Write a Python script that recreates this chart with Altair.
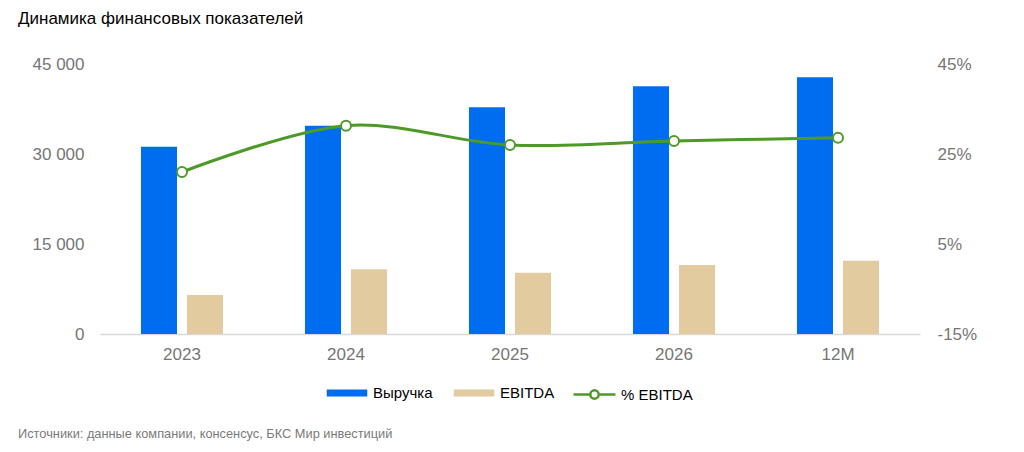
import pandas as pd
import altair as alt

# Data
periods = ["2023", "2024", "2025", "2026", "12M"]
revenue = [31200, 34700, 37800, 41300, 42800]
ebitda = [6500, 10800, 10200, 11500, 12200]
margin = [21.0, 31.3, 27.0, 27.9, 28.6]

bar_series = ["Выручка", "EBITDA"]
bar_colors = ["#006df0", "#e2cb9e"]
line_series = "% EBITDA"
line_color = "#4e9a28"

title_text = "Динамика финансовых показателей"
source_text = "Источники: данные компании, консенсус, БКС Мир инвестиций"

bars_df = pd.DataFrame({
    "period": periods * 2,
    "series": [bar_series[0]] * len(periods) + [bar_series[1]] * len(periods),
    "value": revenue + ebitda,
})
line_df = pd.DataFrame({"period": periods, "series": line_series, "pct": margin})

label_color = "#767676"
x = alt.X("period:N", sort=periods, title=None,
          scale=alt.Scale(paddingInner=0, paddingOuter=0),
          axis=alt.Axis(labelAngle=0, labelFontSize=17, labelColor=label_color,
                        labelPadding=12, ticks=False, domainColor="#d9d9d9",
                        domainWidth=1.5))

bars = alt.Chart(bars_df).mark_bar().encode(
    x=x,
    xOffset=alt.XOffset("series:N", sort=bar_series,
                        scale=alt.Scale(paddingInner=0.217, paddingOuter=0.89)),
    y=alt.Y("value:Q", title=None,
            scale=alt.Scale(domain=[0, 45000]),
            axis=alt.Axis(values=[0, 15000, 30000, 45000], grid=False, domain=False,
                          ticks=False, labelFontSize=17, labelColor=label_color,
                          labelPadding=16,
                          labelExpr="replace(format(datum.value, ','), ',', ' ')")),
    color=alt.Color("series:N", sort=bar_series,
                    scale=alt.Scale(domain=bar_series, range=bar_colors),
                    legend=alt.Legend(orient="none", legendX=226, legendY=308,
                                      direction="horizontal", title=None,
                                      symbolType="M-1,-0.17H1V0.17H-1Z",
                                      symbolSize=1640, labelFontSize=15,
                                      labelColor="#000", labelOffset=5,
                                      columnPadding=20)),
)

pct_axis = alt.Axis(orient="right", values=[-15, 5, 25, 45], grid=False, domain=False,
                    ticks=False, labelFontSize=17, labelColor=label_color,
                    labelPadding=17, labelExpr="datum.value + '%'")
pct_y = alt.Y("pct:Q", title=None, scale=alt.Scale(domain=[-15, 45]), axis=pct_axis)
stroke = alt.Stroke("series:N",
                    scale=alt.Scale(domain=[line_series], range=[line_color]),
                    legend=alt.Legend(orient="none", legendX=472, legendY=308,
                                      direction="horizontal", title=None,
                                      symbolType="M-1,0H-0.2M0.2,0H1M-0.2,0A0.2,0.2 0 1,1 0.2,0A0.2,0.2 0 1,1 -0.2,0",
                                      symbolSize=1760, symbolStrokeWidth=2.5,
                                      symbolFillColor="white", labelFontSize=15,
                                      labelColor="#000", labelOffset=4))

line = alt.Chart(line_df).mark_line(strokeWidth=3, interpolate="catmull-rom").encode(
    x=x, y=pct_y, stroke=stroke)
points = alt.Chart(line_df).mark_point(filled=False, fill="white", size=100,
                                       strokeWidth=2, opacity=1).encode(
    x=x, y=pct_y, stroke=stroke)

chart = alt.layer(bars, alt.layer(line, points)).resolve_scale(
    y="independent"
).properties(
    width=820,
    height=270,
    title=alt.TitleParams(source_text, orient="bottom", anchor="start",
                          frame="group", dx=-82, fontSize=12.8, fontWeight="normal",
                          color="#7a7a7a", offset=66),
)

chart = alt.vconcat(chart).properties(
    padding={"left": 10, "top": 2, "right": 10, "bottom": 5},
    title=alt.TitleParams(title_text, anchor="start", frame="group", dx=-82,
                          fontSize=17, fontWeight="normal", color="#000", offset=27),
).configure(
    font="Liberation Sans",
).configure_view(stroke=None)

chart.save("out.html", embed_options={"renderer": "svg", "actions": False})
